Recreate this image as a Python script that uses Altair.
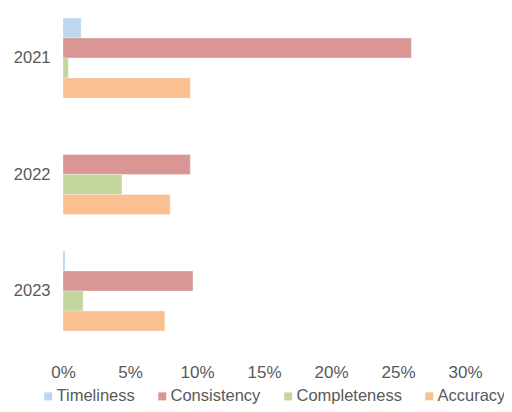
import altair as alt
import pandas as pd

years = ["2021", "2022", "2023"]
series = ["Timeliness", "Consistency", "Completeness", "Accuracy"]
colors = ["#bdd7ee", "#d99694", "#c3d69b", "#fac090"]
timeliness = [0.0135, 0.0, 0.0015]
consistency = [0.260, 0.095, 0.097]
completeness = [0.004, 0.044, 0.015]
accuracy = [0.095, 0.080, 0.076]
x_ticks = [0, 0.05, 0.10, 0.15, 0.20, 0.25, 0.30]

rows = []
for i, y in enumerate(years):
    for s, vals in zip(series, [timeliness, consistency, completeness, accuracy]):
        rows.append({"Year": y, "Metric": s, "Value": vals[i]})
df = pd.DataFrame(rows)

font = "Liberation Sans"
txt = "#595959"

chart = alt.Chart(df).mark_bar(stroke="white", strokeWidth=0.5, strokeOpacity=0.6).encode(
    y=alt.Y("Year:N", sort=years,
            scale=alt.Scale(paddingInner=0.313, paddingOuter=0.043),
            axis=alt.Axis(title=None, ticks=False, domain=False, labelPadding=13,
                          labelFontSize=16.5, labelColor=txt, labelFont=font)),
    yOffset=alt.YOffset("Metric:N", sort=series, scale=alt.Scale(paddingInner=0, paddingOuter=0)),
    x=alt.X("Value:Q", scale=alt.Scale(domain=[0, 0.30], nice=False),
            axis=alt.Axis(title=None, format=".0%", values=x_ticks, grid=False, ticks=False,
                          domain=False, labelPadding=28, labelFontSize=17, labelColor=txt,
                          labelFont=font, labelFlush=False)),
    color=alt.Color("Metric:N", sort=series,
                    scale=alt.Scale(domain=series, range=colors),
                    legend=alt.Legend(title=None, orient="none", direction="horizontal",
                                      legendX=-23, legendY=375, padding=0,
                                      symbolType="square", symbolSize=64, symbolStrokeWidth=0,
                                      labelFontSize=16.5, labelColor=txt, labelFont=font,
                                      columnPadding=19, symbolOffset=0, labelOffset=0)),
).properties(
    width=402, height=323,
    autosize=alt.AutoSizeParams(type="none"),
    padding={"left": 55, "top": 5, "right": 39, "bottom": 68},
).configure_view(stroke=None)

chart.save("out.html", embed_options={"renderer": "svg", "actions": False})
